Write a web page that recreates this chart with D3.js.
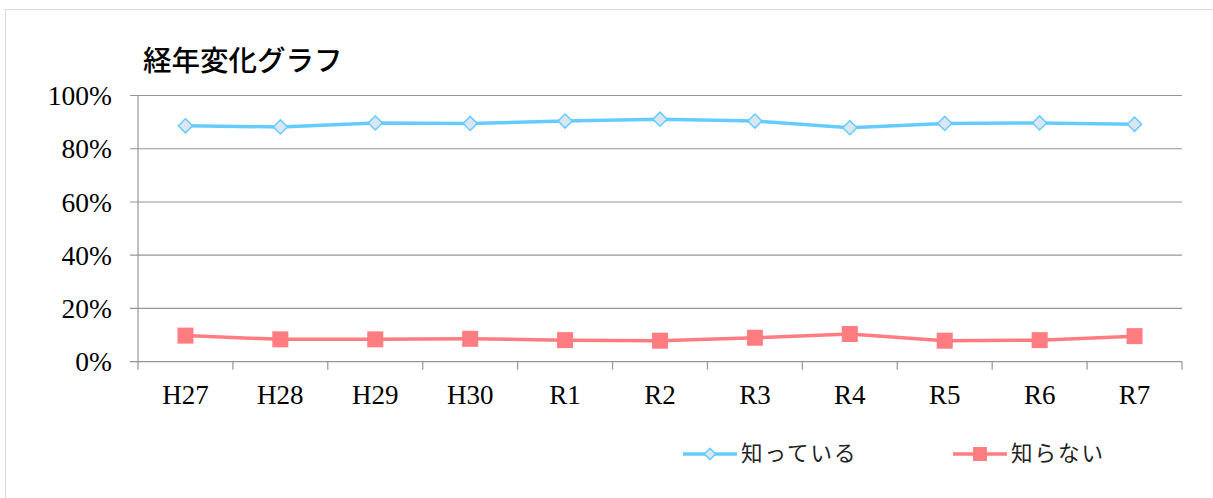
<!DOCTYPE html>
<html><head><meta charset="utf-8">
<script src="https://cdn.jsdelivr.net/npm/d3@7/dist/d3.min.js"></script>
<style>body{margin:0;background:#fff}svg{display:block}</style>
</head><body>
<svg id="c" width="1213" height="498"></svg>
<script>
const categories = ["H27","H28","H29","H30","R1","R2","R3","R4","R5","R6","R7"];
const known = [88.6,88.2,89.7,89.5,90.4,91.1,90.4,87.9,89.5,89.7,89.2];
const unknown = [9.8,8.4,8.4,8.6,8.1,7.9,9.0,10.4,7.9,8.1,9.6];
const yTicks = [0,20,40,60,80,100];
const seriesNames = ["知っている","知らない"];
const title = "経年変化グラフ";

const svg = d3.select("#c");
const serif = "'Liberation Serif','DejaVu Serif','Noto Sans CJK JP',serif";
const L = 138, R = 1182, T = 95.5, B = 361.7;

svg.append("rect").attr("x",5.5).attr("y",9.5).attr("width",1220).attr("height",500)
  .attr("fill","none").attr("stroke","#d9d9d9").attr("stroke-width",1);

const x = d3.scaleBand().domain(categories).range([L,R]).padding(0);
const y = d3.scaleLinear().domain([0,100]).range([B,T]);

svg.append("g").selectAll("line").data(yTicks).join("line")
  .attr("x1",L-8).attr("x2",R).attr("y1",d=>y(d)).attr("y2",d=>y(d))
  .attr("stroke","#969696").attr("stroke-width",1.2);
svg.append("line").attr("x1",L).attr("x2",L).attr("y1",T).attr("y2",B+8)
  .attr("stroke","#969696").attr("stroke-width",1.2);
const bounds = categories.map(c=>x(c)).concat([R]);
svg.append("g").selectAll("line").data(bounds.slice(1)).join("line")
  .attr("x1",d=>d).attr("x2",d=>d).attr("y1",B).attr("y2",B+8)
  .attr("stroke","#969696").attr("stroke-width",1.2);

svg.append("g").selectAll("text").data(yTicks).join("text")
  .attr("x",112).attr("y",d=>y(d)).attr("dy","0.35em").attr("text-anchor","end")
  .attr("font-family",serif).attr("font-size",27.5).attr("fill","#000")
  .text(d=>d+"%");
svg.append("g").selectAll("text").data(categories).join("text")
  .attr("x",d=>x(d)+x.bandwidth()/2).attr("y",404).attr("text-anchor","middle")
  .attr("font-family",serif).attr("font-size",27).attr("fill","#000")
  .text(d=>d);

svg.append("text").attr("x",143).attr("y",71)
  .attr("font-family","'Noto Sans CJK JP',sans-serif").attr("font-weight","500")
  .attr("font-size",28.5).attr("fill","#000").text(title);

const cx = (d,i)=>x(categories[i])+x.bandwidth()/2;
const line = d3.line().x(cx).y(d=>y(d));
const blue = "#66CCFF", red = "#FF7C80";

svg.append("path").datum(known).attr("d",line).attr("fill","none")
  .attr("stroke",blue).attr("stroke-width",3.5);
svg.append("path").datum(unknown).attr("d",line).attr("fill","none")
  .attr("stroke",red).attr("stroke-width",3.5);

svg.append("g").selectAll("path").data(known).join("path")
  .attr("transform",(d,i)=>`translate(${cx(d,i)},${y(d)}) rotate(45)`)
  .attr("d",d3.symbol().type(d3.symbolSquare).size(100))
  .attr("fill","#DCE6F2").attr("stroke",blue).attr("stroke-width",1.5);
svg.append("g").selectAll("rect").data(unknown).join("rect")
  .attr("x",(d,i)=>cx(d,i)-8).attr("y",d=>y(d)-8).attr("width",16).attr("height",16)
  .attr("fill",red);

const lg = svg.append("g");
const leg = [{x:683, c:blue, t:seriesNames[0], m:"d"},{x:953, c:red, t:seriesNames[1], m:"s"}];
leg.forEach(o=>{
  lg.append("line").attr("x1",o.x).attr("x2",o.x+54).attr("y1",454).attr("y2",454)
    .attr("stroke",o.c).attr("stroke-width",3.5);
  if(o.m==="d"){
    lg.append("path").attr("transform",`translate(${o.x+27},454) rotate(45)`)
      .attr("d",d3.symbol().type(d3.symbolSquare).size(64))
      .attr("fill","#DCE6F2").attr("stroke",o.c).attr("stroke-width",1.5);
  } else {
    lg.append("rect").attr("x",o.x+20).attr("y",447).attr("width",14).attr("height",14).attr("fill",o.c);
  }
  lg.append("text").attr("x",o.x+58).attr("y",461)
    .attr("font-family","'Noto Sans CJK JP',sans-serif").attr("font-size",21.5).attr("fill","#222")
    .attr("letter-spacing",2).text(o.t);
});
</script>
</body></html>
